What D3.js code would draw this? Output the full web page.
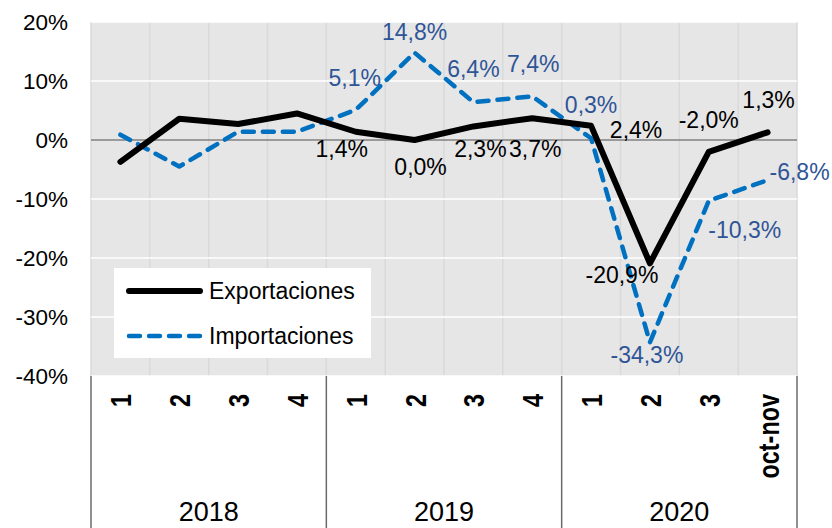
<!DOCTYPE html>
<html>
<head>
<meta charset="utf-8">
<script src="https://cdn.jsdelivr.net/npm/d3@7"></script>
<style>
  body { margin: 0; background: #fff; }
  svg { display: block; }
</style>
</head>
<body>
<div id="chart"></div>
<script>
// data
let years = ['2018', '2019', '2020'];
let quarters = ['1', '2', '3', '4', '1', '2', '3', '4', '1', '2', '3', 'oct-nov'];
let quarterYear = ['2018', '2018', '2018', '2018', '2019', '2019', '2019', '2019', '2020', '2020', '2020', '2020'];
let exportaciones = [-3.7, 3.6, 2.7, 4.5, 1.4, 0.0, 2.3, 3.7, 2.4, -20.9, -2.0, 1.3];
let importaciones = [0.9, -4.5, 1.4, 1.4, 5.1, 14.8, 6.4, 7.4, 0.3, -34.3, -10.3, -6.8];
let yTicks = [-40, -30, -20, -10, 0, 10, 20];

// which points get a label, and where it sits (dx, dy from the point)
let expLabelPos = {4: [-14, 25], 5: [6, 35], 6: [7, 31], 7: [3, 39], 8: [45, 12], 9: [-28, 20], 10: [0, -24], 11: [1, -24]};
let impLabelPos = {4: [-1, -24], 5: [0, -13], 6: [0, -25], 7: [1, -24], 8: [0, -25], 9: [-3, 21], 10: [36, 37], 11: [32, 0]};

let config = {
  width: 832,
  height: 528,
  left: 91,
  right: 797,
  top: 22,
  bottom: 376,
  font: '"Liberation Sans", Arial, sans-serif',
  plotBg: '#e6e6e6',
  vGrid: '#d9d9d9',
  zeroLine: '#808080',
  sepColor: '#6b6b6b',
  expColor: '#000000',
  impColor: '#0070c0',
  impLabelColor: '#2f5597'
};

let svg = d3.select('#chart').append('svg')
  .attr('width', config.width)
  .attr('height', config.height);

svg.append('rect')
  .attr('width', config.width).attr('height', config.height)
  .attr('fill', '#fff');

let idx = d3.range(quarters.length);

let x = d3.scaleBand()
  .domain(idx)
  .range([config.left, config.right])
  .padding(0);

let y = d3.scaleLinear()
  .domain([-40, 20])
  .range([config.bottom, config.top]);

let cx = (i) => x(i) + x.bandwidth() / 2;

// plot background
svg.append('rect')
  .attr('x', config.left).attr('y', config.top)
  .attr('width', config.right - config.left)
  .attr('height', config.bottom - config.top)
  .attr('fill', config.plotBg);

// vertical grid lines on category boundaries
let bounds = idx.map((i) => x(i)).concat([config.right]);
svg.selectAll('.vgrid')
  .data(bounds)
  .enter().append('line')
  .attr('x1', (d) => d).attr('x2', (d) => d)
  .attr('y1', config.top).attr('y2', config.bottom)
  .attr('stroke', config.vGrid)
  .attr('stroke-width', 1.5);

// horizontal grid lines
svg.selectAll('.hgrid')
  .data(yTicks.filter((d) => d !== 0))
  .enter().append('line')
  .attr('x1', config.left).attr('x2', config.right)
  .attr('y1', (d) => y(d)).attr('y2', (d) => y(d))
  .attr('stroke', '#fff')
  .attr('stroke-width', 1.5);

svg.append('line')
  .attr('x1', config.left).attr('x2', config.right)
  .attr('y1', y(0)).attr('y2', y(0))
  .attr('stroke', config.zeroLine)
  .attr('stroke-width', 1.5);

// y axis
let yAxis = d3.axisLeft(y)
  .tickValues(yTicks)
  .tickSize(0)
  .tickPadding(23)
  .tickFormat((d) => d + '%');

let yg = svg.append('g')
  .attr('transform', 'translate(' + config.left + ',0)')
  .call(yAxis);
yg.select('.domain').remove();
yg.selectAll('text')
  .attr('font-family', config.font)
  .attr('font-size', '22.5px')
  .attr('fill', '#000');

// lines
let line = (vals) => d3.line()
  .x((d, i) => cx(i))
  .y((d) => y(d))(vals);

svg.append('path')
  .attr('d', line(importaciones))
  .attr('fill', 'none')
  .attr('stroke', config.impColor)
  .attr('stroke-width', 4.5)
  .attr('stroke-dasharray', '11,9')
  .attr('stroke-linecap', 'round')
  .attr('stroke-linejoin', 'round');

svg.append('path')
  .attr('d', line(exportaciones))
  .attr('fill', 'none')
  .attr('stroke', config.expColor)
  .attr('stroke-width', 6)
  .attr('stroke-linecap', 'round')
  .attr('stroke-linejoin', 'round');

// data labels
let fmt = (v) => v.toFixed(1).replace('.', ',') + '%';

function addLabels(vals, pos, color) {
  let keys = Object.keys(pos).map(Number);
  svg.selectAll(null)
    .data(keys)
    .enter().append('text')
    .attr('x', (i) => cx(i) + pos[i][0])
    .attr('y', (i) => y(vals[i]) + pos[i][1])
    .attr('text-anchor', 'middle')
    .attr('font-family', config.font)
    .attr('font-size', '23px')
    .attr('fill', color)
    .text((i) => fmt(vals[i]));
}
addLabels(exportaciones, expLabelPos, '#000');
addLabels(importaciones, impLabelPos, config.impLabelColor);

// legend
let legend = svg.append('g');
legend.append('rect')
  .attr('x', 114).attr('y', 268)
  .attr('width', 257).attr('height', 90)
  .attr('fill', '#fff');

let legendItems = [
  {name: 'Exportaciones', color: config.expColor, width: 6, dash: null, y: 291},
  {name: 'Importaciones', color: config.impColor, width: 4.5, dash: '11,9', y: 336}
];
legendItems.forEach((d) => {
  legend.append('line')
    .attr('x1', 129).attr('x2', 200)
    .attr('y1', d.y).attr('y2', d.y)
    .attr('stroke', d.color)
    .attr('stroke-width', d.width)
    .attr('stroke-linecap', 'round')
    .attr('stroke-dasharray', d.dash);
  legend.append('text')
    .attr('x', 209).attr('y', d.y + 8)
    .attr('font-family', config.font)
    .attr('font-size', '23px')
    .attr('fill', '#000')
    .text(d.name);
});

// category axis: quarters (rotated, condensed) and years
svg.selectAll('.qlabel')
  .data(idx)
  .enter().append('text')
  .attr('transform', (i) => 'translate(' + (cx(i) + 11) + ',394) rotate(-90) scale(0.78,1)')
  .attr('text-anchor', 'end')
  .attr('font-family', config.font)
  .attr('font-weight', 'bold')
  .attr('font-size', '30px')
  .attr('fill', '#000')
  .text((i) => quarters[i]);

let groups = years.map((yr) => {
  let ii = idx.filter((i) => quarterYear[i] === yr);
  return {year: yr, x0: x(ii[0]), x1: x(ii[ii.length - 1]) + x.bandwidth()};
});

let seps = [groups[0].x0].concat(groups.map((g) => g.x1));
svg.selectAll('.sep')
  .data(seps)
  .enter().append('line')
  .attr('x1', (d) => d).attr('x2', (d) => d)
  .attr('y1', config.bottom).attr('y2', config.height)
  .attr('stroke', config.sepColor)
  .attr('stroke-width', 1.5);

svg.selectAll('.ylabel')
  .data(groups)
  .enter().append('text')
  .attr('x', (g) => (g.x0 + g.x1) / 2)
  .attr('y', 521)
  .attr('text-anchor', 'middle')
  .attr('font-family', config.font)
  .attr('font-size', '27px')
  .attr('fill', '#000')
  .text((g) => g.year);
</script>
</body>
</html>
